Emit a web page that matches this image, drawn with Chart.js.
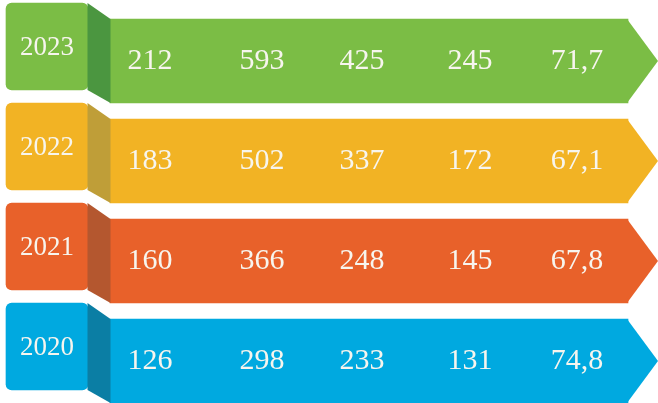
<!DOCTYPE html>
<html>
<head>
<meta charset="utf-8">
<script src="https://cdn.jsdelivr.net/npm/chart.js@4.4.0/dist/chart.umd.min.js"></script>
<style>
  html, body { margin: 0; padding: 0; background: #ffffff; }
  #wrap { width: 658px; height: 403px; }
</style>
</head>
<body>
<div id="wrap"><canvas id="infoChart" width="658" height="403"></canvas></div>
<script>
// Data (rows top to bottom)
const years = ['2023', '2022', '2021', '2020'];
const values2023 = [212, 593, 425, 245, 71.7];
const values2022 = [183, 502, 337, 172, 67.1];
const values2021 = [160, 366, 248, 145, 67.8];
const values2020 = [126, 298, 233, 131, 74.8];
const rowValues = [values2023, values2022, values2021, values2020];

// Styles
const mainColors = ['#7bbd45', '#f2b324', '#e8612a', '#00a9e0'];
const foldColors = ['#4b9640', '#bf9e38', '#b4572f', '#0b7ea4'];

// Layout (in scale units, scale spans the canvas)
const rowStep = 100;
const rowOffset = 3;
const boxLeft = 6, boxRight = 88, boxHeight = 87;
const bodyLeft = 110, bodyRight = 628, bodyTop = 16, bodyHeight = 84;
const tipX = 658;
const columnX = [150, 262, 362, 470, 577];
const yearLabelX = 47;

function rowTop(i) {
    return rowOffset + i * rowStep;
}

/**
 * Formats a number with a comma as the decimal separator
 */
function formatValue(v) {
    return Number.isInteger(v) ? String(v) : v.toFixed(1).replace('.', ',');
}

let boxData = [];
let bodyData = [];
for (let i = 0; i < years.length; i++) {
    boxData.push({ y: rowTop(i) + boxHeight / 2, x: [boxLeft, boxRight] });
    bodyData.push({ y: rowTop(i) + bodyTop + bodyHeight / 2, x: [bodyLeft, bodyRight] });
}

// Draws the fold between year box and body, the arrow tip and all texts
const ribbonPlugin = {
    id: 'ribbon',
    afterDatasetsDraw(chart) {
        const ctx = chart.ctx;
        const xs = chart.scales.x;
        const ys = chart.scales.y;
        ctx.save();
        for (let i = 0; i < years.length; i++) {
            let top = rowTop(i);

            // fold
            ctx.fillStyle = foldColors[i];
            ctx.beginPath();
            ctx.moveTo(xs.getPixelForValue(boxRight - 0.5), ys.getPixelForValue(top));
            ctx.lineTo(xs.getPixelForValue(bodyLeft + 0.5), ys.getPixelForValue(top + bodyTop));
            ctx.lineTo(xs.getPixelForValue(bodyLeft + 0.5), ys.getPixelForValue(top + bodyTop + bodyHeight));
            ctx.lineTo(xs.getPixelForValue(boxRight - 0.5), ys.getPixelForValue(top + boxHeight));
            ctx.closePath();
            ctx.fill();

            // arrow tip
            ctx.fillStyle = mainColors[i];
            ctx.beginPath();
            ctx.moveTo(xs.getPixelForValue(bodyRight - 1), ys.getPixelForValue(top + bodyTop));
            ctx.lineTo(xs.getPixelForValue(tipX), ys.getPixelForValue(top + bodyTop + bodyHeight / 2));
            ctx.lineTo(xs.getPixelForValue(bodyRight - 1), ys.getPixelForValue(top + bodyTop + bodyHeight));
            ctx.closePath();
            ctx.fill();

            // texts
            ctx.fillStyle = '#f7f5ee';
            ctx.textAlign = 'center';
            ctx.textBaseline = 'middle';
            ctx.font = '27px "Liberation Serif", "DejaVu Serif", serif';
            ctx.fillText(years[i], xs.getPixelForValue(yearLabelX), ys.getPixelForValue(top + 45));

            ctx.font = '30px "Liberation Serif", "DejaVu Serif", serif';
            for (let j = 0; j < rowValues[i].length; j++) {
                ctx.fillText(formatValue(rowValues[i][j]), xs.getPixelForValue(columnX[j]), ys.getPixelForValue(top + 58));
            }
        }
        ctx.restore();
    }
};

const config = {
    type: 'bar',
    data: {
        datasets: [
            {
                label: 'years',
                data: boxData,
                backgroundColor: mainColors,
                barThickness: boxHeight,
                borderRadius: 6,
                borderSkipped: false,
                grouped: false
            },
            {
                label: 'values',
                data: bodyData,
                backgroundColor: mainColors,
                barThickness: bodyHeight,
                borderRadius: 0,
                borderSkipped: false,
                grouped: false
            }
        ]
    },
    options: {
        indexAxis: 'y',
        responsive: false,
        animation: false,
        layout: { padding: 0 },
        plugins: {
            legend: { display: false },
            tooltip: { enabled: false }
        },
        scales: {
            x: { type: 'linear', min: 0, max: 658, offset: false, display: false },
            y: { type: 'linear', min: 0, max: 403, reverse: true, offset: false, display: false }
        }
    },
    plugins: [ribbonPlugin]
};

new Chart(document.getElementById('infoChart'), config);
</script>
</body>
</html>
